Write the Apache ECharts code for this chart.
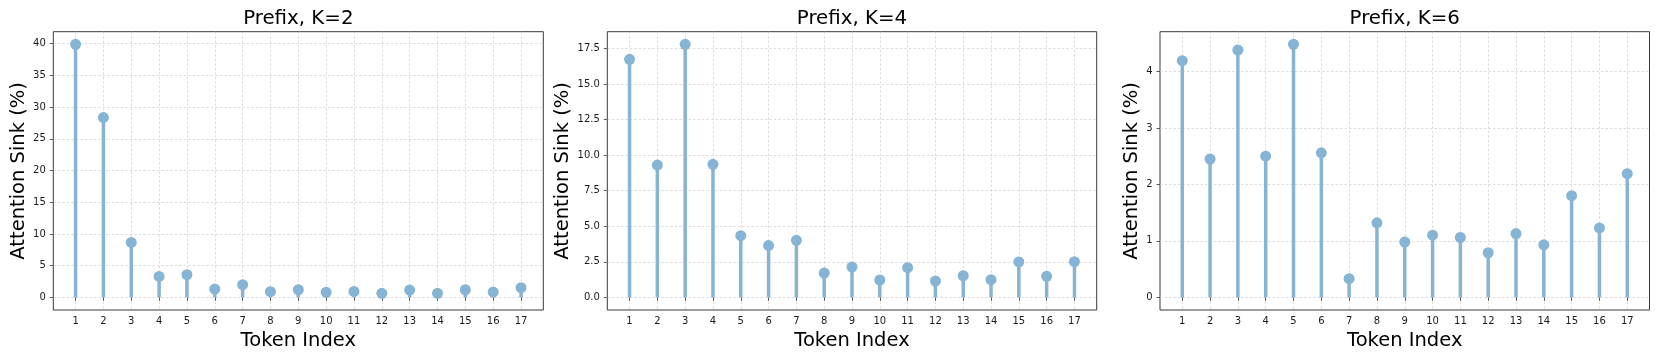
<!DOCTYPE html>
<html>
<head>
<meta charset="utf-8">
<script src="https://cdn.jsdelivr.net/npm/echarts@6/dist/echarts.min.js"></script>
<style>
html,body{margin:0;padding:0;background:#fff;}
#chart{width:1661px;height:361px;}
</style>
</head>
<body>
<div id="chart"></div>
<script>
// ---- data ----
const tokenIndex = [1,2,3,4,5,6,7,8,9,10,11,12,13,14,15,16,17];
const titles = ['Prefix, K=2', 'Prefix, K=4', 'Prefix, K=6'];
const sinkK2 = [39.9, 28.35, 8.66, 3.3, 3.57, 1.31, 2.0, 0.89, 1.2, 0.79, 0.94, 0.63, 1.15, 0.63, 1.2, 0.84, 1.52];
const sinkK4 = [16.75, 9.31, 17.8, 9.36, 4.34, 3.64, 4.01, 1.71, 2.13, 1.22, 2.09, 1.15, 1.52, 1.24, 2.49, 1.48, 2.51];
const sinkK6 = [4.19, 2.45, 4.38, 2.50, 4.48, 2.56, 0.33, 1.32, 0.98, 1.10, 1.06, 0.79, 1.13, 0.93, 1.80, 1.23, 2.19];
const yTicksK2 = [0, 5, 10, 15, 20, 25, 30, 35, 40];
const yTicksK4 = [0, 2.5, 5, 7.5, 10, 12.5, 15, 17.5];
const yTicksK6 = [0, 1, 2, 3, 4];

// ---- layout ----
const panels = [
  {vals: sinkK2, ticks: yTicksK2, fmt: v => String(v), left: 53.3, width: 490, nameGap: 24},
  {vals: sinkK4, ticks: yTicksK4, fmt: v => v.toFixed(1), left: 607.3, width: 489.4, nameGap: 34},
  {vals: sinkK6, ticks: yTicksK6, fmt: v => String(v), left: 1160, width: 489.5, nameGap: 17.5}
];
const gridTop = 31.7, gridHeight = 278.3;
const color = '#86b4d5';
const font = 'DejaVu Sans';
const gridLineStyle = {color: '#cfcfcf', type: [2.5, 2], width: 0.7};

const option = {
  animation: false,
  backgroundColor: '#fff',
  title: [], grid: [], xAxis: [], yAxis: [], series: []
};

panels.forEach((p, i) => {
  const vmax = Math.max(...p.vals);
  const xmin = tokenIndex[0], xmax = tokenIndex[tokenIndex.length - 1];
  const xpad = 0.05 * (xmax - xmin);
  option.title.push({
    text: titles[i], left: p.left + p.width / 2, top: 8.5, textAlign: 'center', padding: 0,
    textStyle: {fontFamily: font, fontSize: 19.8, fontWeight: 'normal', color: '#000'}
  });
  option.grid.push({
    left: p.left, top: gridTop, width: p.width, height: gridHeight,
    show: true, borderColor: '#3a3a3a', borderWidth: 1, backgroundColor: 'transparent'
  });
  option.xAxis.push({
    type: 'value', gridIndex: i, min: xmin - xpad, max: xmax + xpad,
    name: 'Token Index', nameLocation: 'middle', nameGap: 18,
    nameTextStyle: {fontFamily: font, fontSize: 19.5, color: '#000'},
    axisLine: {show: false},
    axisTick: {show: true, customValues: tokenIndex, length: 3.5, lineStyle: {color: '#333', width: 0.8}},
    axisLabel: {customValues: tokenIndex, fontFamily: font, fontSize: 10, color: '#1a1a1a', margin: 6},
    splitLine: {show: true, lineStyle: gridLineStyle}
  });
  option.yAxis.push({
    type: 'value', gridIndex: i, min: -0.05 * vmax, max: 1.05 * vmax,
    name: 'Attention Sink (%)', nameLocation: 'middle', nameGap: p.nameGap,
    nameTextStyle: {fontFamily: font, fontSize: 19.5, color: '#000'},
    axisLine: {show: false},
    axisTick: {show: true, customValues: p.ticks, length: 3.5, lineStyle: {color: '#333', width: 0.8}},
    axisLabel: {customValues: p.ticks, formatter: p.fmt, fontFamily: font, fontSize: 10, color: '#1a1a1a', margin: 7.5},
    splitLine: {show: true, lineStyle: gridLineStyle}
  });
  const pts = tokenIndex.map((t, j) => [t, p.vals[j]]);
  option.series.push({
    type: 'bar', xAxisIndex: i, yAxisIndex: i, data: pts, barWidth: 3.5,
    itemStyle: {color: color}, z: 3
  });
  option.series.push({
    type: 'scatter', xAxisIndex: i, yAxisIndex: i, data: pts, symbolSize: 11,
    itemStyle: {color: color, opacity: 1}, z: 4
  });
});

const chart = echarts.init(document.getElementById('chart'), null, {renderer: 'canvas'});
chart.setOption(option);
</script>
</body>
</html>
